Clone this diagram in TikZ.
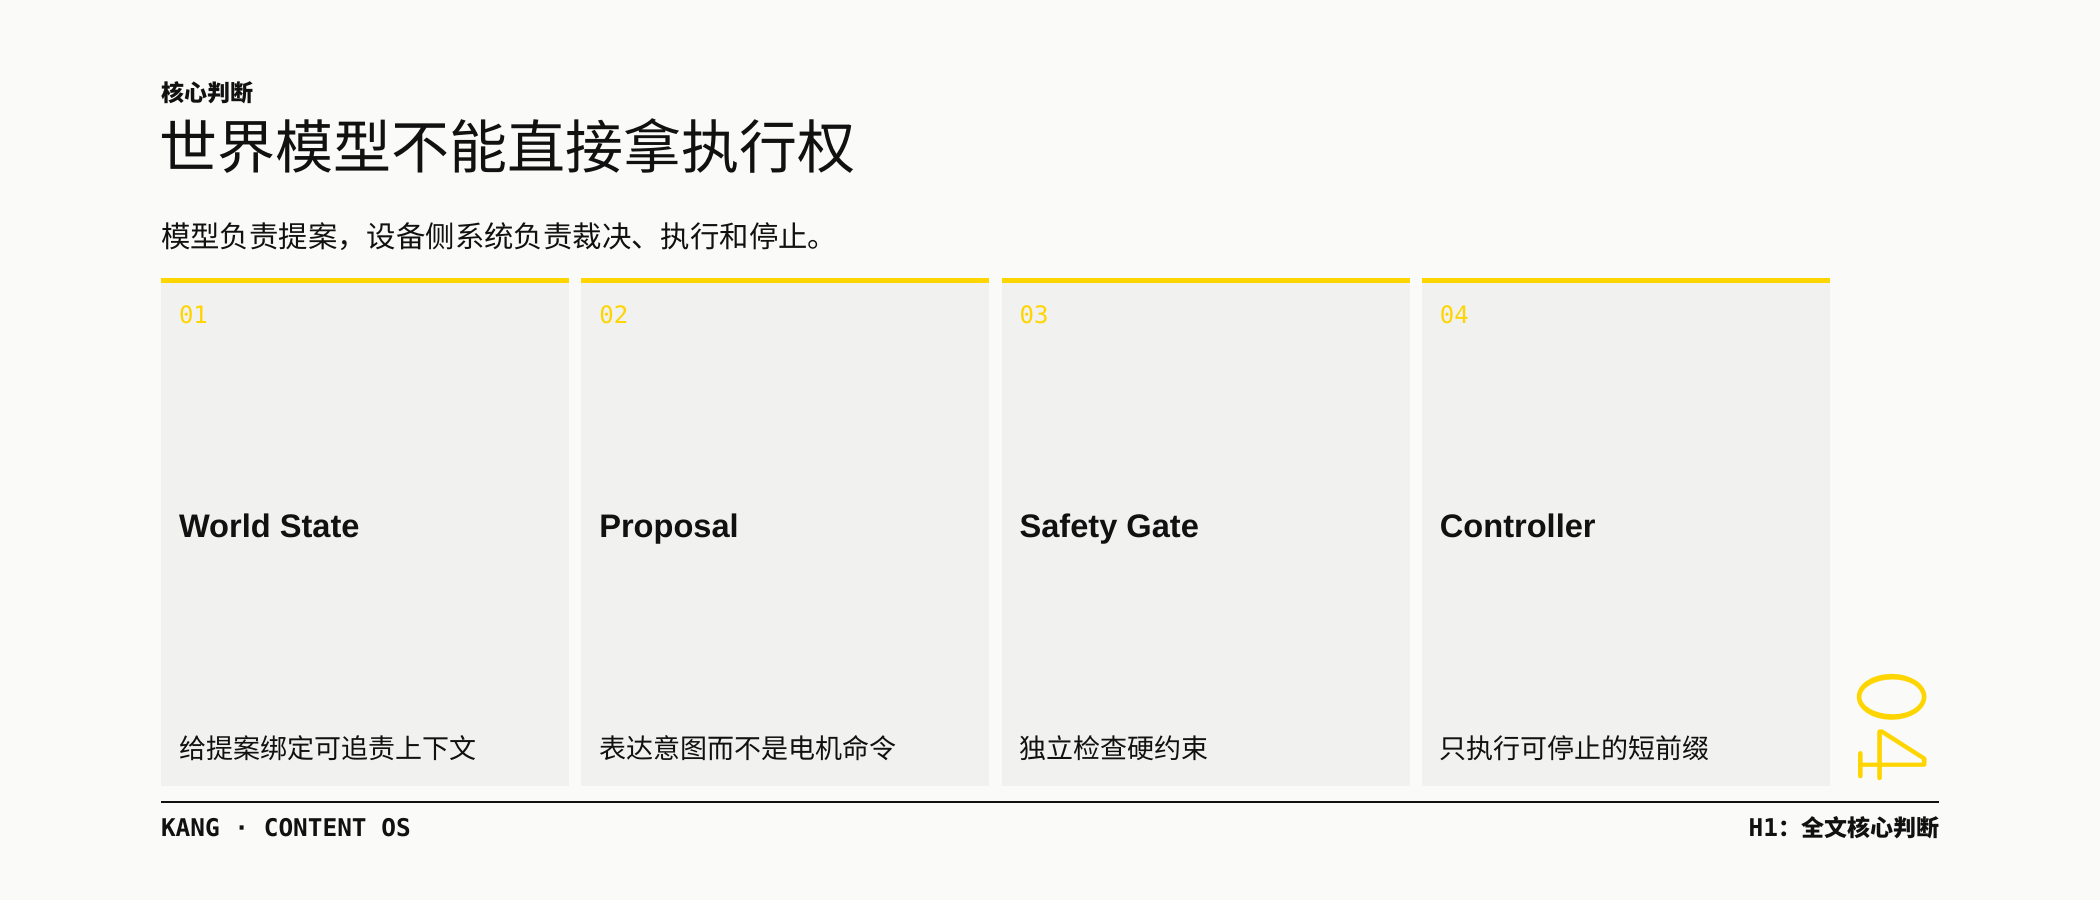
\documentclass[tikz,border=0pt]{standalone}
\usepackage{fontspec}
\setmainfont{Noto Sans}
\newfontfamily\cjk{Noto Sans CJK SC}
\newfontfamily\codefont{DejaVu Sans Mono}
\newfontfamily\headfont{Liberation Sans}
\newfontfamily\thinmono{lmmonolt10-regular.otf}
\usetikzlibrary{positioning}

\definecolor{paper}{HTML}{FAFAF8}
\definecolor{cardgray}{HTML}{F1F1F0}
\definecolor{signal}{HTML}{FFD500}
\definecolor{ink}{HTML}{111111}

\tikzset{
  txt/.style={inner sep=0pt, outer sep=0pt, text=ink, anchor=west},
  kicker/.style={txt, font=\cjk\bfseries\fontsize{11.5}{12}\selectfont},
  headline/.style={txt, font=\cjk\fontsize{29}{30}\selectfont},
  lede/.style={txt, font=\cjk\fontsize{14.7}{16}\selectfont},
  card/.style={fill=cardgray, inner sep=0pt, outer sep=0pt, anchor=north west,
    minimum width=204pt, minimum height=252.75pt},
  topbar/.style={draw=signal, line width=2.5pt},
  cardnum/.style={txt, text=signal, font=\codefont\fontsize{12}{13}\selectfont},
  cardhead/.style={txt, anchor=base west, font=\headfont\bfseries\fontsize{16.3}{18}\selectfont},
  cardnote/.style={txt, font=\cjk\fontsize{13.5}{15}\selectfont},
  footer/.style={txt, font=\codefont\bfseries\fontsize{12.2}{13}\selectfont},
  rule/.style={draw=ink, line width=1.2pt}
}

\begin{document}
\begin{tikzpicture}[x=0.5pt,y=-0.5pt]
 \fill[paper] (0,0) rectangle (2100,900);
 \useasboundingbox (0,0) rectangle (2100,900);

 % header
 \node[kicker] (kicker) at (161,93) {核心判断};
 \node[headline] (headline) at (159,146) {世界模型不能直接拿执行权};
 \node[lede] (lede) at (161,237) {模型负责提案，设备侧系统负责裁决、执行和停止。};

 % cards
 \foreach \i/\num/\head/\note in {0/01/World State/给提案绑定可追责上下文,
   1/02/Proposal/表达意图而不是电机命令,
   2/03/Safety Gate/独立检查硬约束,
   3/04/Controller/只执行可停止的短前缀} {
   \node[card] (card\num) at (161+420.3*\i,280.5) {};
   \draw[topbar] (card\num.north west) -- (card\num.north east);
   \node[cardnum] (num\num) at (179+420.3*\i,315) {\num};
   \node[cardhead] (head\num) at (179+420.3*\i,537) {\head};
   \node[cardnote] (note\num) at (179+420.3*\i,748) {\note};
 }

 % big index
 \node[inner sep=0pt, text=signal, rotate=-90,
   font=\thinmono\fontsize{55}{55}\selectfont] (index) at (1892,726) {04};

 % footer
 \coordinate (ruleL) at (161,802);
 \coordinate (ruleR) at (1939,802);
 \draw[rule] (ruleL) -- (ruleR);
 \node[footer] (brand) at (161,828) {KANG · CONTENT OS};
 \node[footer, anchor=east] (section) at (1939,828)
   {H1{\cjk\bfseries\fontsize{11.5}{13}\selectfont ：全文核心判断}};
\end{tikzpicture}
\end{document}
